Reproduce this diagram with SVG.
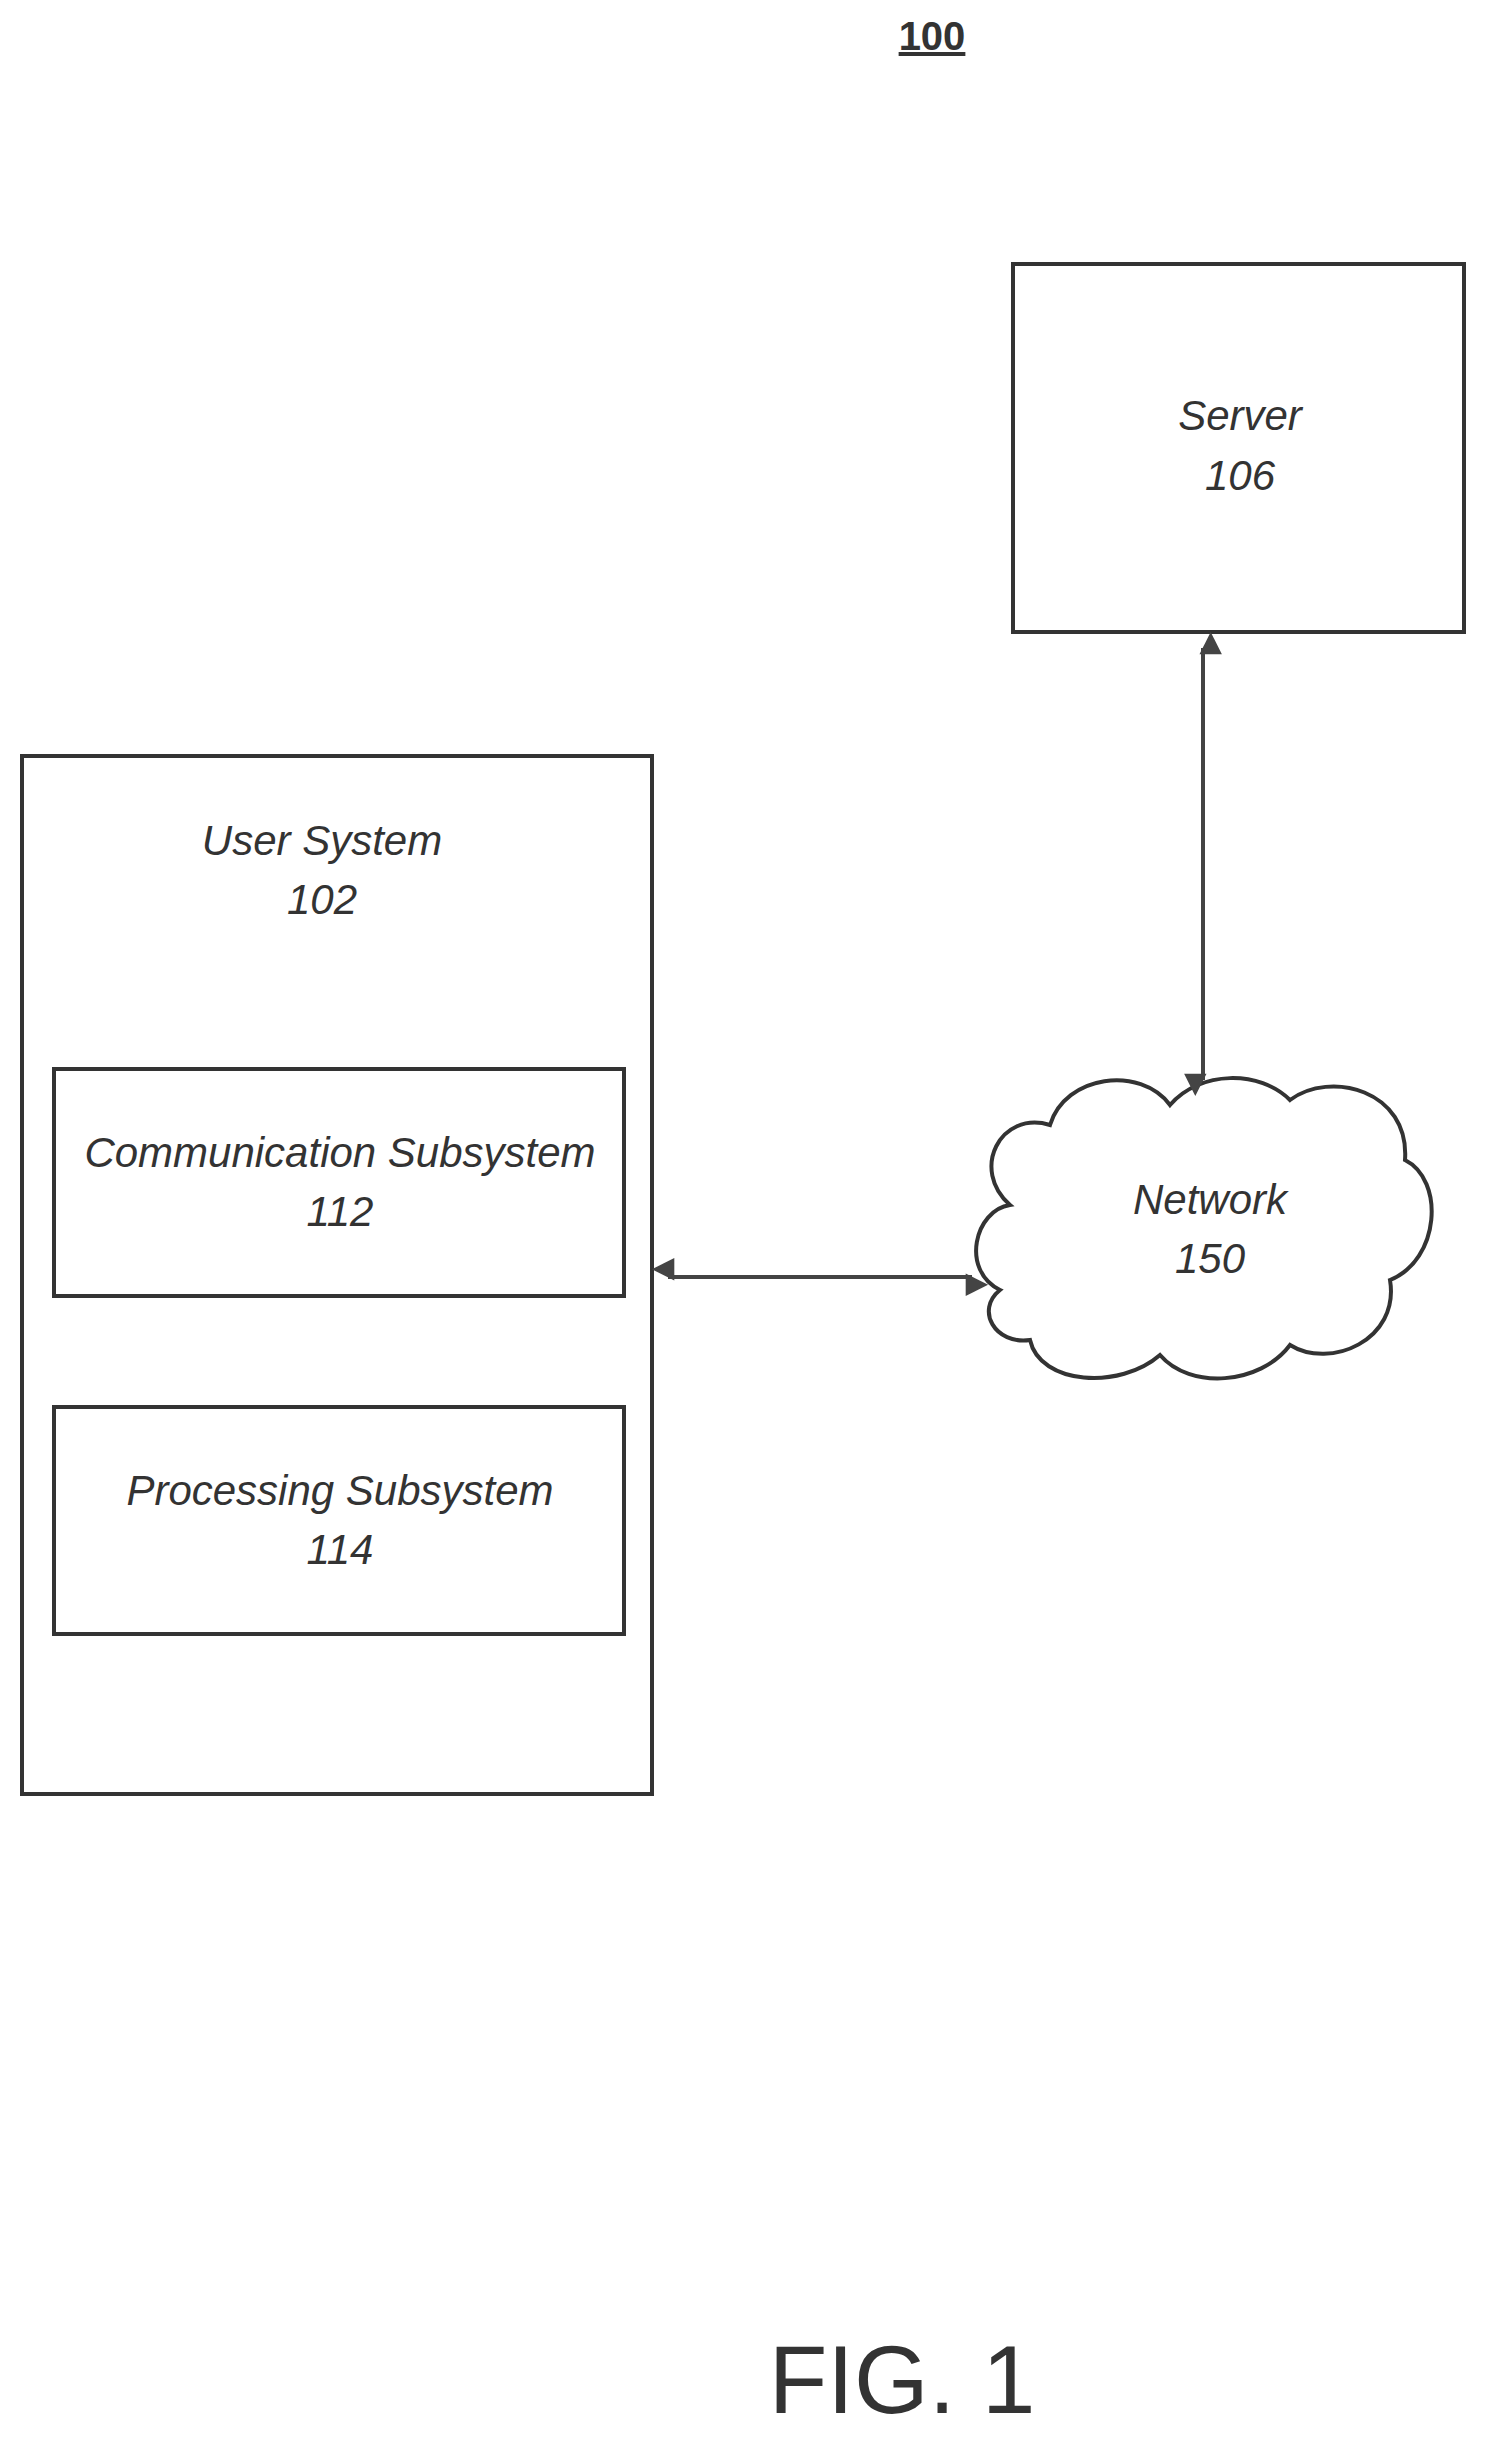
<svg xmlns="http://www.w3.org/2000/svg" width="1489" height="2441" viewBox="0 0 1489 2441">
<style>
.b{fill:#fff;stroke:#333;stroke-width:4}
.t{font-family:"Liberation Sans",Arial,sans-serif;font-style:italic;font-size:42px;fill:#333;text-anchor:middle}
.c{stroke:#444;stroke-width:4;fill:none}
</style>
<defs>
<marker id="a" viewBox="0 0 10 10" refX="9" refY="5" markerWidth="7" markerHeight="7" orient="auto-start-reverse" markerUnits="userSpaceOnUse" style="overflow:visible">
<path d="M0,0 L10,5 L0,10 Z" fill="#444" transform="scale(3.2) translate(-6,-5) translate(6,5)"/>
</marker>
</defs>
<rect width="1489" height="2441" fill="#fff"/>
<text x="932" y="50" font-family="Liberation Sans,Arial,sans-serif" font-weight="bold" font-size="40" fill="#333" text-anchor="middle" text-decoration="underline">100</text>
<g id="server"><rect class="b" x="1013" y="264" width="451" height="368"/>
<text class="t" x="1240" y="430">Server</text><text class="t" x="1240" y="490">106</text></g>
<g id="user"><rect class="b" x="22" y="756" width="630" height="1038"/>
<text class="t" x="322" y="855">User System</text><text class="t" x="322" y="914">102</text></g>
<g id="comm"><rect class="b" x="54" y="1069" width="570" height="227"/>
<text class="t" x="340" y="1167">Communication Subsystem</text><text class="t" x="340" y="1226">112</text></g>
<g id="proc"><rect class="b" x="54" y="1407" width="570" height="227"/>
<text class="t" x="340" y="1505">Processing Subsystem</text><text class="t" x="340" y="1564">114</text></g>
<g id="network"><path class="b" d="M1000,1290 C960,1270 975,1210 1010,1205 C970,1170 1000,1110 1050,1125 C1065,1075 1140,1065 1170,1105 C1200,1070 1260,1070 1290,1100 C1330,1070 1410,1090 1405,1160 C1445,1180 1440,1260 1390,1280 C1400,1340 1330,1370 1290,1345 C1260,1385 1190,1390 1160,1355 C1120,1390 1040,1385 1030,1340 C995,1345 975,1310 1000,1290 Z"/>
<text class="t" x="1210" y="1214">Network</text><text class="t" x="1210" y="1273">150</text></g>
<g id="connectors">
<line class="c" x1="668" y1="1277" x2="972" y2="1277" marker-start="url(#a)" marker-end="url(#a)"/>
<line class="c" x1="1203" y1="648" x2="1203" y2="1080" marker-start="url(#a)" marker-end="url(#a)"/>
</g>
<text x="902" y="2413" font-family="Liberation Sans,Arial,sans-serif" font-size="96" fill="#333" text-anchor="middle">FIG. 1</text>
</svg>
